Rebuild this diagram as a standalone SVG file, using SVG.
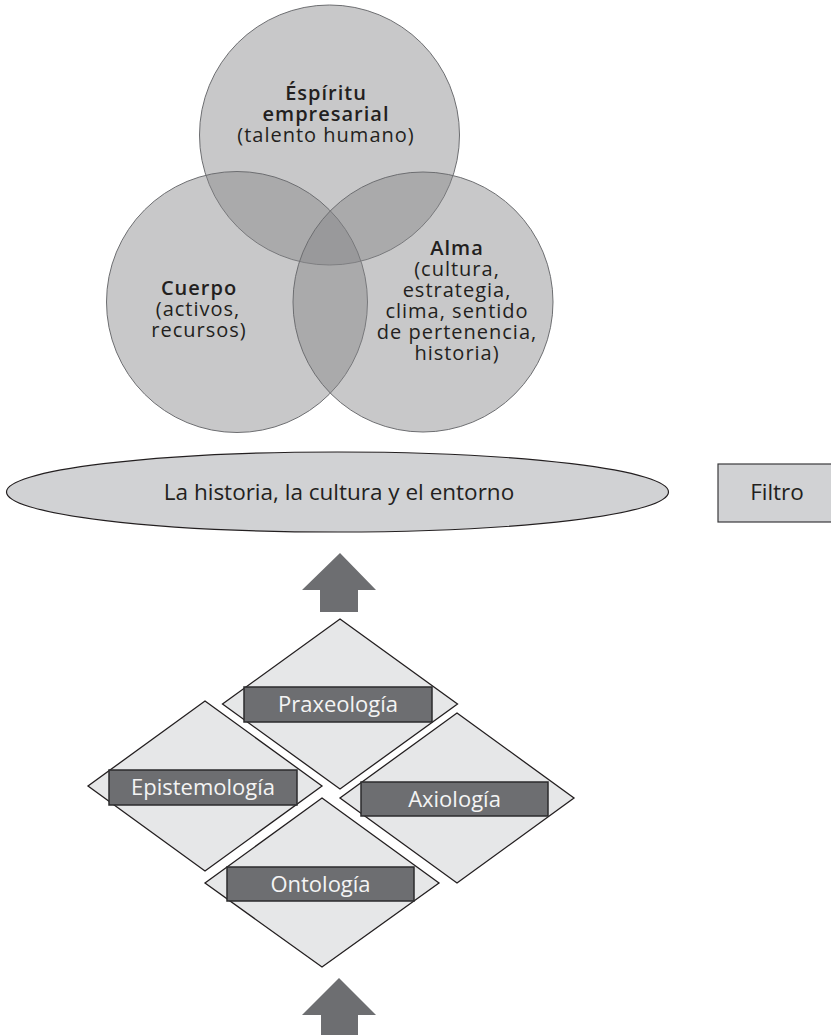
<svg xmlns="http://www.w3.org/2000/svg" width="831" height="1035" viewBox="0 0 831 1035">
<style>
.circ{fill:#868789;fill-opacity:0.455;stroke:#6d6e71;stroke-width:1}
.ct{font-family:"Open Sans","Liberation Sans",sans-serif;font-size:20px;letter-spacing:1px;fill:#231f20;text-anchor:middle}
.et{font-family:"Open Sans","Liberation Sans",sans-serif;font-size:22.5px;fill:#231f20;text-anchor:middle}
.b{font-weight:600}
.ell{fill:#d1d2d4;stroke:#231f20;stroke-width:1.2}
.box{fill:#d1d2d4;stroke:#3a3a3c;stroke-width:1.2}
.dia{fill:#e6e7e8;stroke:#231f20;stroke-width:1.3}
.lab{fill:#6d6e71;stroke:#2b2b2d;stroke-width:1.5}
.lt{font-family:"Open Sans","Liberation Sans",sans-serif;font-size:22px;fill:#f4f4f4;text-anchor:middle}
.arr{fill:#6d6e71}
</style>
<rect width="831" height="1035" fill="#ffffff"/>
<g id="espiritu">
<circle class="circ" cx="329.5" cy="135" r="130"/>
</g>
<g id="cuerpo">
<circle class="circ" cx="237" cy="302" r="130.5"/>
</g>
<g id="alma">
<circle class="circ" cx="423" cy="302" r="130"/>
</g>
<g id="labels-circles">
<text class="ct"><tspan class="b" x="326" y="100">Éspíritu</tspan><tspan class="b" x="326" y="121">empresarial</tspan><tspan x="326" y="142">(talento humano)</tspan></text>
<text class="ct"><tspan class="b" x="199" y="295">Cuerpo</tspan><tspan x="198" y="316">(activos,</tspan><tspan x="199" y="337">recursos)</tspan></text>
<text class="ct"><tspan class="b" x="457" y="255">Alma</tspan><tspan x="457" y="276">(cultura,</tspan><tspan x="457" y="297">estrategia,</tspan><tspan x="457" y="318">clima, sentido</tspan><tspan x="457" y="339">de pertenencia,</tspan><tspan x="457" y="360">historia)</tspan></text>
</g>
<g id="entorno">
<ellipse class="ell" cx="337.5" cy="492" rx="331" ry="40"/>
<text class="et" x="339" y="500">La historia, la cultura y el entorno</text>
</g>
<g id="filtro">
<rect class="box" x="718" y="464" width="122" height="58"/>
<text class="et" x="777" y="500">Filtro</text>
</g>
<g id="connectors">
<polygon class="arr" points="340,553 376,590 358,590 358,612 320,612 320,590 302,590"/>
<polygon class="arr" points="339,978 376,1015 358,1015 358,1040 321,1040 321,1015 302,1015"/>
</g>
<g id="praxeologia">
<polygon class="dia" points="340,619 457.5,704 340,789 222.5,704"/>
<rect class="lab" x="244" y="687" width="188" height="35"/>
<text class="lt" x="338" y="712">Praxeología</text>
</g>
<g id="epistemologia">
<polygon class="dia" points="205,701 322,786 205,871 88,786"/>
<rect class="lab" x="109" y="770" width="188" height="35"/>
<text class="lt" x="203" y="795">Epistemología</text>
</g>
<g id="axiologia">
<polygon class="dia" points="457,713 574,798 457,883 340,798"/>
<rect class="lab" x="361" y="782" width="187" height="34"/>
<text class="lt" x="454.5" y="807">Axiología</text>
</g>
<g id="ontologia">
<polygon class="dia" points="322,798 439,883 322,967 205,883"/>
<rect class="lab" x="227" y="867" width="187" height="34"/>
<text class="lt" x="320.5" y="892">Ontología</text>
</g>
</svg>
